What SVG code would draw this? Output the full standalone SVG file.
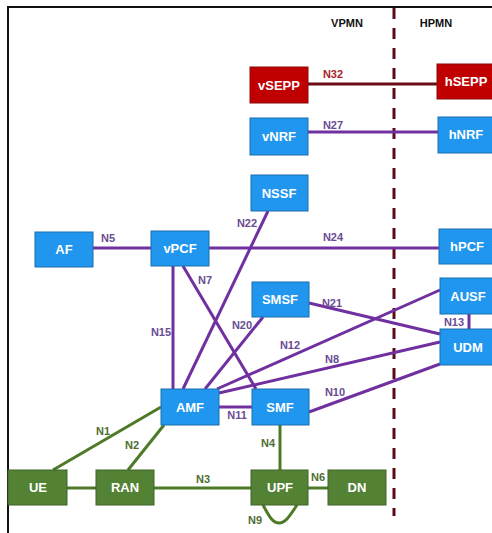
<svg xmlns="http://www.w3.org/2000/svg" width="492" height="533" viewBox="0 0 492 533">
<style>
.b rect{fill:#2196EE;stroke:#1a6fae;stroke-width:1}
.r rect{fill:#C00000;stroke:#8a0b0b;stroke-width:1}
.g rect{fill:#548235;stroke:#3d6326;stroke-width:1}
.n text{font-family:"Liberation Sans",Arial,sans-serif;font-weight:bold;font-size:13px;fill:#fff;text-anchor:middle}
.lbl{font-family:"Liberation Sans",Arial,sans-serif;font-weight:bold;font-size:11px;text-anchor:middle}
.pl{fill:#6b4c93}
.gl{fill:#4f6e32}
.rl{fill:#a8242a}
.p{stroke:#7030A0;stroke-width:3;fill:none}
.gr{stroke:#4E7A27;stroke-width:3;fill:none}
.hd{font-family:"Liberation Sans",Arial,sans-serif;font-weight:bold;font-size:11px;fill:#111;text-anchor:middle}
</style>
<rect x="0" y="0" width="492" height="533" fill="#fff"/>
<path d="M8 533 V7 H492" fill="none" stroke="#111" stroke-width="2"/>
<text class="hd" x="347" y="27">VPMN</text>
<text class="hd" x="436" y="27">HPMN</text>
<line x1="394" y1="8" x2="394" y2="516" stroke="#5C0A14" stroke-width="3" stroke-dasharray="11 9"/>
<g id="connectors">
<line x1="308" y1="84" x2="437" y2="84" stroke="#6B0D16" stroke-width="3"/>
<line class="p" x1="308" y1="132" x2="438" y2="132"/>
<line class="p" x1="93" y1="248" x2="151" y2="248"/>
<line class="p" x1="209" y1="248" x2="439" y2="248"/>
<line class="p" x1="268" y1="211" x2="183" y2="389"/>
<line class="p" x1="173" y1="266" x2="173" y2="389"/>
<line class="p" x1="183" y1="266" x2="256" y2="389"/>
<line class="p" x1="263" y1="317" x2="205" y2="389"/>
<line class="p" x1="217" y1="389" x2="440" y2="290"/>
<line class="p" x1="219" y1="393" x2="440" y2="342"/>
<line class="p" x1="309" y1="412" x2="440" y2="364"/>
<line class="p" x1="309" y1="303" x2="440" y2="334"/>
<line class="p" x1="219" y1="407" x2="252" y2="407"/>
<line class="p" x1="469" y1="314" x2="469" y2="329"/>
<line class="gr" x1="161" y1="407" x2="53" y2="470"/>
<line class="gr" x1="164" y1="425" x2="128" y2="470"/>
<line class="gr" x1="67" y1="488" x2="96" y2="488"/>
<line class="gr" x1="154" y1="488" x2="251" y2="488"/>
<line class="gr" x1="280" y1="425" x2="280" y2="470"/>
<line class="gr" x1="308" y1="488" x2="328" y2="488"/>
<path class="gr" d="M263 505 C268 514 272 523 279 523 C286 523 291 514 297 505"/>
</g>
<g id="labels">
<text class="lbl rl" x="333" y="78">N32</text>
<text class="lbl pl" x="333" y="129">N27</text>
<text class="lbl pl" x="108" y="242">N5</text>
<text class="lbl pl" x="333" y="241">N24</text>
<text class="lbl pl" x="247" y="227">N22</text>
<text class="lbl pl" x="205" y="284">N7</text>
<text class="lbl pl" x="161" y="336">N15</text>
<text class="lbl pl" x="242" y="329">N20</text>
<text class="lbl pl" x="332" y="307">N21</text>
<text class="lbl pl" x="290" y="349">N12</text>
<text class="lbl pl" x="332" y="363">N8</text>
<text class="lbl pl" x="335" y="396">N10</text>
<text class="lbl pl" x="237" y="419">N11</text>
<text class="lbl pl" x="454" y="326">N13</text>
<text class="lbl gl" x="103" y="435">N1</text>
<text class="lbl gl" x="132" y="449">N2</text>
<text class="lbl gl" x="203" y="483">N3</text>
<text class="lbl gl" x="268" y="447">N4</text>
<text class="lbl gl" x="318" y="481">N6</text>
<text class="lbl gl" x="255" y="524">N9</text>
</g>
<g id="vSEPP" class="n r"><rect x="250" y="67" width="58" height="36"/><text x="279" y="90">vSEPP</text></g>
<g id="hSEPP" class="n r"><rect x="437" y="64" width="60" height="35"/><text x="466" y="86">hSEPP</text></g>
<g id="vNRF" class="n b"><rect x="250" y="118" width="58" height="37"/><text x="279" y="141">vNRF</text></g>
<g id="hNRF" class="n b"><rect x="438" y="117" width="60" height="36"/><text x="466" y="139">hNRF</text></g>
<g id="NSSF" class="n b"><rect x="251" y="175" width="57" height="36"/><text x="279" y="198">NSSF</text></g>
<g id="AF" class="n b"><rect x="35" y="232" width="58" height="35"/><text x="64" y="254">AF</text></g>
<g id="vPCF" class="n b"><rect x="151" y="231" width="58" height="35"/><text x="180" y="253">vPCF</text></g>
<g id="hPCF" class="n b"><rect x="439" y="229" width="60" height="35"/><text x="467" y="251">hPCF</text></g>
<g id="SMSF" class="n b"><rect x="252" y="282" width="57" height="35"/><text x="280" y="304">SMSF</text></g>
<g id="AUSF" class="n b"><rect x="440" y="278" width="60" height="36"/><text x="468" y="301">AUSF</text></g>
<g id="UDM" class="n b"><rect x="440" y="329" width="60" height="36"/><text x="468" y="352">UDM</text></g>
<g id="AMF" class="n b"><rect x="161" y="389" width="58" height="36"/><text x="190" y="412">AMF</text></g>
<g id="SMF" class="n b"><rect x="252" y="389" width="57" height="36"/><text x="280" y="412">SMF</text></g>
<g id="UE" class="n g"><rect x="8" y="470" width="59" height="35"/><text x="38" y="492">UE</text></g>
<g id="RAN" class="n g"><rect x="96" y="470" width="58" height="35"/><text x="125" y="492">RAN</text></g>
<g id="UPF" class="n g"><rect x="251" y="470" width="57" height="35"/><text x="280" y="492">UPF</text></g>
<g id="DN" class="n g"><rect x="328" y="470" width="58" height="35"/><text x="357" y="492">DN</text></g>
</svg>
